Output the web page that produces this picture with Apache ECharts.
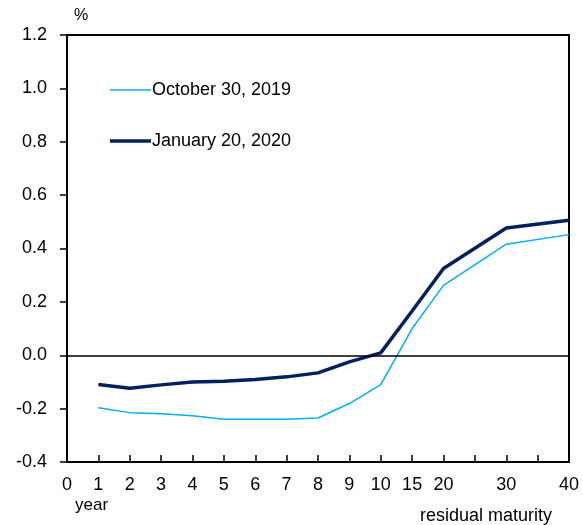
<!DOCTYPE html>
<html>
<head>
<meta charset="utf-8">
<script src="https://cdn.jsdelivr.net/npm/echarts@6/dist/echarts.min.js"></script>
<style>
  html, body { margin: 0; padding: 0; background: #fff; }
  #chart { width: 583px; height: 525px; }
</style>
</head>
<body>
<div id="chart"></div>
<script>
// tick labels along the x axis, one per evenly spaced slot (blank = tick only)
var tickLabels = ['0', '1', '2', '3', '4', '5', '6', '7', '8', '9', '10', '15', '20', '', '30', '', '40'];
var maturities = ['1', '2', '3', '4', '5', '6', '7', '8', '9', '10', '15', '20', '30', '40'];
var oct2019 = [-0.197, -0.215, -0.219, -0.227, -0.240, -0.240, -0.240, -0.235, -0.181, -0.110, 0.100, 0.262, 0.416, 0.452];
var jan2020 = [-0.110, -0.124, -0.111, -0.100, -0.097, -0.091, -0.081, -0.066, -0.025, 0.009, 0.166, 0.325, 0.477, 0.506];
var yTicks = [-0.4, 1.2, 0.2];

function toPoints(vals) {
  return vals.map(function (v, i) {
    return [tickLabels.indexOf(maturities[i]), v];
  });
}

var myChart = echarts.init(document.getElementById('chart'));
var font = 'Liberation Sans, Arial, sans-serif';
var option = {
  backgroundColor: '#fff',
  animation: false,
  grid: {
    left: 67,
    right: 14,
    top: 35,
    bottom: 63,
    show: true,
    borderColor: '#000',
    borderWidth: 2
  },
  legend: [
    {
      data: ['October 30, 2019'],
      left: 110,
      top: 81,
      padding: 0,
      icon: 'rect',
      itemWidth: 41,
      itemHeight: 1.5,
      itemGap: 0,
      textStyle: { fontFamily: font, fontSize: 18, color: '#000', padding: [0, 0, 0, -4] }
    },
    {
      data: ['January 20, 2020'],
      left: 110,
      top: 132,
      padding: 0,
      icon: 'rect',
      itemWidth: 41,
      itemHeight: 3.5,
      itemGap: 0,
      textStyle: { fontFamily: font, fontSize: 18, color: '#000', padding: [0, 0, 0, -4] }
    }
  ],
  xAxis: {
    type: 'value',
    min: 0,
    max: tickLabels.length - 1,
    interval: 1,
    axisLine: { onZero: false, lineStyle: { color: '#000', width: 2 } },
    axisTick: { inside: true, length: 7, lineStyle: { color: '#000', width: 1.5 } },
    axisLabel: {
      fontFamily: font,
      fontSize: 18,
      color: '#000',
      margin: 14,
      formatter: function (v) { return tickLabels[Math.round(v)]; }
    },
    splitLine: { show: false }
  },
  yAxis: {
    type: 'value',
    min: yTicks[0],
    max: yTicks[1],
    interval: yTicks[2],
    axisLine: { show: true, lineStyle: { color: '#000', width: 2 } },
    axisTick: { show: true, length: 7, lineStyle: { color: '#000', width: 1.5 } },
    axisLabel: {
      fontFamily: font,
      fontSize: 18,
      color: '#000',
      margin: 20,
      formatter: function (v) { return v.toFixed(1); }
    },
    splitLine: { show: false }
  },
  graphic: [
    { type: 'text', left: 74, top: 8, style: { text: '%', font: '16px ' + font, fill: '#000' } },
    { type: 'text', left: 75, top: 497, style: { text: 'year', font: '17px ' + font, fill: '#000' } },
    { type: 'text', left: 420, top: 507, style: { text: 'residual maturity', font: '18px ' + font, fill: '#000' } }
  ],
  series: [
    {
      name: 'October 30, 2019',
      type: 'line',
      data: toPoints(oct2019),
      symbol: 'none',
      lineStyle: { color: '#00B0F0', width: 1.5 },
      itemStyle: { color: '#00B0F0' },
      markLine: {
        silent: true,
        symbol: 'none',
        label: { show: false },
        lineStyle: { color: '#000', width: 1.5, type: 'solid' },
        data: [{ yAxis: 0 }]
      }
    },
    {
      name: 'January 20, 2020',
      type: 'line',
      data: toPoints(jan2020),
      symbol: 'none',
      lineStyle: { color: '#002060', width: 3.5 },
      itemStyle: { color: '#002060' }
    }
  ]
};
myChart.setOption(option);
</script>
</body>
</html>
